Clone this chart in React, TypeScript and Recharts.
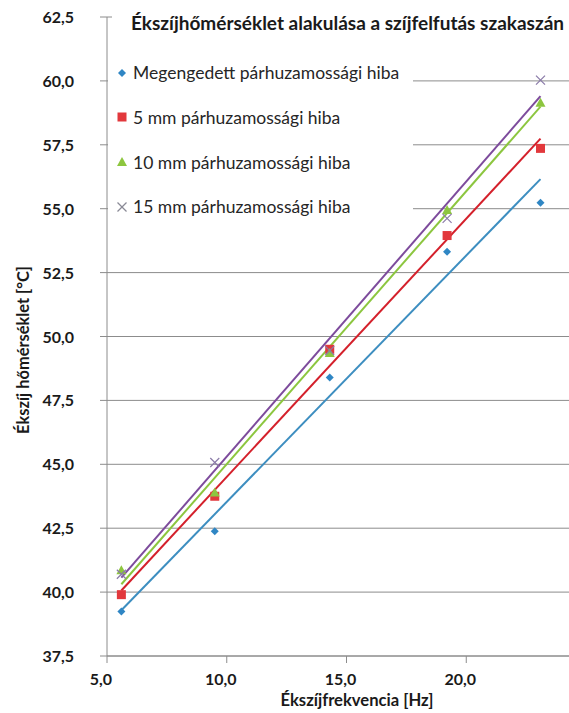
import React from 'react';
import { ComposedChart, Scatter, Line, XAxis, YAxis, CartesianGrid } from 'recharts';

const freq = [5.6, 9.5, 14.3, 19.2, 23.1];
const seriesNames = [
  'Megengedett párhuzamossági hiba',
  '5 mm párhuzamossági hiba',
  '10 mm párhuzamossági hiba',
  '15 mm párhuzamossági hiba',
];
const temp0 = [39.24, 42.38, 48.4, 53.32, 55.23];
const temp5 = [39.9, 43.75, 49.5, 53.95, 57.36];
const temp10 = [40.85, 43.9, 49.35, 54.95, 59.15];
const temp15 = [40.7, 45.07, 49.45, 54.62, 60.03];
const yTicks = [37.5, 40, 42.5, 45, 47.5, 50, 52.5, 55, 57.5, 60, 62.5];
const xTicks = [5, 10, 15, 20];

const markerColors = ['#2f86c4', '#e2383c', '#8dc63f', '#8a8a96'];
const lineColors = ['#3d8ec0', '#d4202b', '#8cc63f', '#7d4b9c'];
const shapes = ['diamond', 'square', 'triangle', 'x'];
const allTemps = [temp0, temp5, temp10, temp15];

const FONT = 'Lato, "Open Sans", sans-serif';

function toPoints(ys: number[]) {
  return freq.map((x, i) => ({ x, y: ys[i] }));
}
function trend(ys: number[]) {
  const n = freq.length;
  const mx = freq.reduce((a, b) => a + b, 0) / n;
  const my = ys.reduce((a, b) => a + b, 0) / n;
  let sxy = 0, sxx = 0;
  for (let i = 0; i < n; i++) {
    sxy += (freq[i] - mx) * (ys[i] - my);
    sxx += (freq[i] - mx) * (freq[i] - mx);
  }
  const k = sxy / sxx;
  const b = my - k * mx;
  const x0 = Math.min(...freq), x1 = Math.max(...freq);
  return [{ x: x0, y: k * x0 + b }, { x: x1, y: k * x1 + b }];
}

function Marker({ kind, cx, cy, color }: { kind: string; cx: number; cy: number; color: string }) {
  const s = 4;
  if (kind === 'diamond') {
    return <path d={`M${cx},${cy - s}L${cx + s},${cy}L${cx},${cy + s}L${cx - s},${cy}Z`} fill={color} />;
  }
  if (kind === 'square') {
    return <rect x={cx - 4.5} y={cy - 4.5} width={9} height={9} fill={color} />;
  }
  if (kind === 'triangle') {
    return <path d={`M${cx},${cy - 5}L${cx + 5},${cy + 4}L${cx - 5},${cy + 4}Z`} fill={color} />;
  }
  return (
    <g stroke={color} strokeWidth={1.2}>
      <line x1={cx - 4.5} y1={cy - 4.5} x2={cx + 4.5} y2={cy + 4.5} />
      <line x1={cx - 4.5} y1={cy + 4.5} x2={cx + 4.5} y2={cy - 4.5} />
    </g>
  );
}

const fmt = (v: number) => v.toFixed(1).replace('.', ',');

function XTick(props: any) {
  const { x, y, payload } = props;
  return (
    <text x={x - 6} y={y + 20} textAnchor="middle" fontFamily={FONT} fontWeight="bold" fontSize={16} fill="#1a1a1a">
      {fmt(payload.value)}
    </text>
  );
}
function YTick(props: any) {
  const { y, payload } = props;
  return (
    <text x={74} y={y + 6} textAnchor="end" fontFamily={FONT} fontWeight="bold" fontSize={16} fill="#1a1a1a">
      {fmt(payload.value)}
    </text>
  );
}

export default function App() {
  return (
    <div style={{ position: 'absolute', left: 0, top: 0, width: 569, height: 713, overflow: 'hidden', background: '#fff' }}>
      <ComposedChart width={600} height={713} margin={{ top: 17, right: 14, left: 0, bottom: 0 }}>
        <CartesianGrid vertical={false} stroke="#8c8c8c" strokeWidth={1} />
        <XAxis
          type="number"
          dataKey="x"
          domain={[5, 25]}
          ticks={xTicks}
          allowDataOverflow
          height={57}
          tickSize={7}
          tick={<XTick />}
          axisLine={{ stroke: '#8c8c8c' }}
          tickLine={{ stroke: '#8c8c8c' }}
        />
        <YAxis
          type="number"
          dataKey="y"
          domain={[37.5, 62.5]}
          ticks={yTicks}
          width={107}
          tickSize={7}
          tick={<YTick />}
          axisLine={{ stroke: '#8c8c8c' }}
          tickLine={{ stroke: '#8c8c8c' }}
        />
        {allTemps.map((t, i) => (
          <Scatter
            key={`s${i}`}
            name={seriesNames[i]}
            data={toPoints(t)}
            isAnimationActive={false}
            shape={(p: any) => <Marker kind={shapes[i]} cx={p.cx} cy={p.cy} color={i === 3 ? '#8a7aa8' : markerColors[i]} />}
          />
        ))}
        {allTemps.map((t, i) => (
          <Line
            key={`l${i}`}
            data={trend(t)}
            dataKey="y"
            type="linear"
            stroke={lineColors[i]}
            strokeWidth={2}
            dot={false}
            activeDot={false}
            legendType="none"
            isAnimationActive={false}
          />
        ))}
      </ComposedChart>
      <div style={{ position: 'absolute', left: 108, top: 52, width: 305, height: 175, background: '#fff', fontFamily: FONT }}>
        {seriesNames.map((name, i) => (
          <div key={name} style={{ position: 'absolute', left: 8, top: 20.7 + i * 44.7 - 12, height: 24, display: 'flex', alignItems: 'center', whiteSpace: 'nowrap' }}>
            <svg width={12} height={12} style={{ marginRight: 5 }}>
              <Marker kind={shapes[i]} cx={6} cy={6} color={markerColors[i]} />
            </svg>
            <span style={{ fontSize: 17.5, color: '#262626' }}>{name}</span>
          </div>
        ))}
      </div>
      <div style={{ position: 'absolute', left: 112, top: 4, width: 460, height: 34, background: '#fff' }} />
      <div style={{ position: 'absolute', left: 347.5, top: 22, transform: 'translate(-50%, -50%)', fontFamily: FONT, fontWeight: 'bold', fontSize: 19, color: '#1a1a1a', whiteSpace: 'nowrap' }}>
        Ékszíjhőmérséklet alakulása a szíjfelfutás szakaszán
      </div>
      <div style={{ position: 'absolute', left: 22, top: 350, transform: 'translate(-50%, -50%) rotate(-90deg)', fontFamily: FONT, fontWeight: 'bold', fontSize: 16.4, color: '#1a1a1a', whiteSpace: 'nowrap' }}>
        Ékszíj hőmérséklet [°C]
      </div>
      <div style={{ position: 'absolute', left: 357, top: 700, transform: 'translate(-50%, -50%)', fontFamily: FONT, fontWeight: 'bold', fontSize: 16.6, color: '#1a1a1a', whiteSpace: 'nowrap' }}>
        Ékszíjfrekvencia [Hz]
      </div>
    </div>
  );
}
